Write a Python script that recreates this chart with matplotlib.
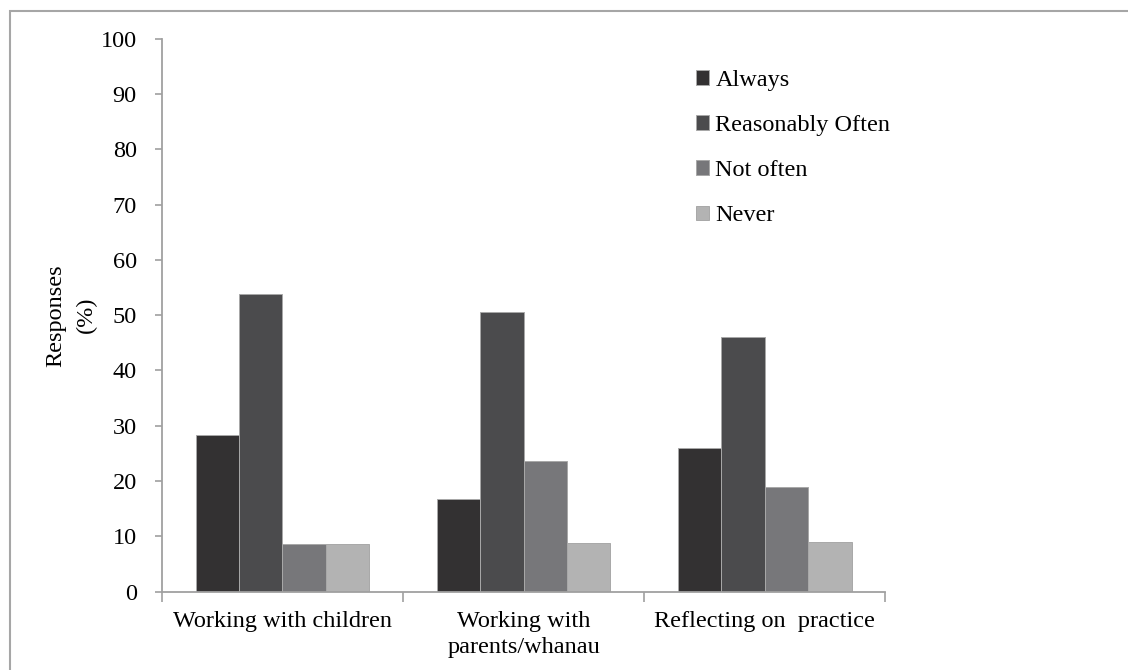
import matplotlib
matplotlib.use("Agg")
import matplotlib.pyplot as plt
from matplotlib.patches import Rectangle
import numpy as np

# Survey responses (%) per context and frequency
categories = ["Working with children", "Working with\nparents/whanau", "Reflecting on  practice"]
series_names = ["Always", "Reasonably Often", "Not often", "Never"]
always = [28.3, 16.7, 25.9]
reasonably_often = [53.8, 50.5, 46.0]
not_often = [8.7, 23.7, 18.9]
never = [8.7, 8.8, 8.9]
series_values = [always, reasonably_often, not_often, never]
colors = ["#333132", "#4b4b4d", "#77777a", "#b3b3b3"]
yticks = list(range(0, 101, 10))

plt.rcParams["font.family"] = ["Liberation Serif", "DejaVu Serif"]
FS = 17.5
AXIS_GRAY = "#a0a0a0"

fig = plt.figure(figsize=(11.28, 6.70), dpi=100)
ax = fig.add_axes([0.1434, 0.1169, 0.785 - 0.1434, 0.9422 - 0.1169])

x = np.arange(len(categories))
width = 0.18
n = len(series_names)
for i, (name, vals, col) in enumerate(zip(series_names, series_values, colors)):
    offs = (i - (n - 1) / 2) * width
    ax.bar(x + offs, vals, width, color=col, edgecolor="#a8a8a8", linewidth=0.7,
           label=name, zorder=2)

ax.set_xlim(-0.5, len(categories) - 0.5)
ax.set_ylim(0, 100)
ax.set_yticks(yticks)
ax.set_yticklabels([str(t) for t in yticks], fontsize=FS)

# group separator ticks on the category axis
ax.set_xticks(np.arange(len(categories) + 1) - 0.5)
ax.set_xticklabels([])
ax.set_xticks(x, minor=True)
ax.set_xticklabels(categories, minor=True, fontsize=FS, linespacing=1.3)
ax.tick_params(axis="x", which="minor", length=0, pad=14)
ax.tick_params(axis="x", which="major", length=7, width=1.2, color=AXIS_GRAY, direction="out")
ax.tick_params(axis="y", length=5, width=1.2, color=AXIS_GRAY, direction="out", pad=13)

for side in ["top", "right"]:
    ax.spines[side].set_visible(False)
for side in ["left", "bottom"]:
    ax.spines[side].set_color(AXIS_GRAY)
    ax.spines[side].set_linewidth(1.3)

ax.set_ylabel("Responses\n(%)", fontsize=FS, linespacing=1.55, labelpad=3)

leg = ax.legend(loc="upper left", bbox_to_anchor=(0.738, 0.943), frameon=False,
                fontsize=FS, handlelength=0.55, handleheight=0.55,
                handletextpad=0.25, labelspacing=0.99, borderaxespad=0, borderpad=0)

# outer frame around the chart area
fig.patches.append(Rectangle((10 / 1128, -0.1), 1.2, 1.1 - 11 / 670,
                             transform=fig.transFigure, fill=False,
                             edgecolor="#a6a6a6", linewidth=1.5))

fig.savefig("out.png", dpi=100, facecolor="white")
